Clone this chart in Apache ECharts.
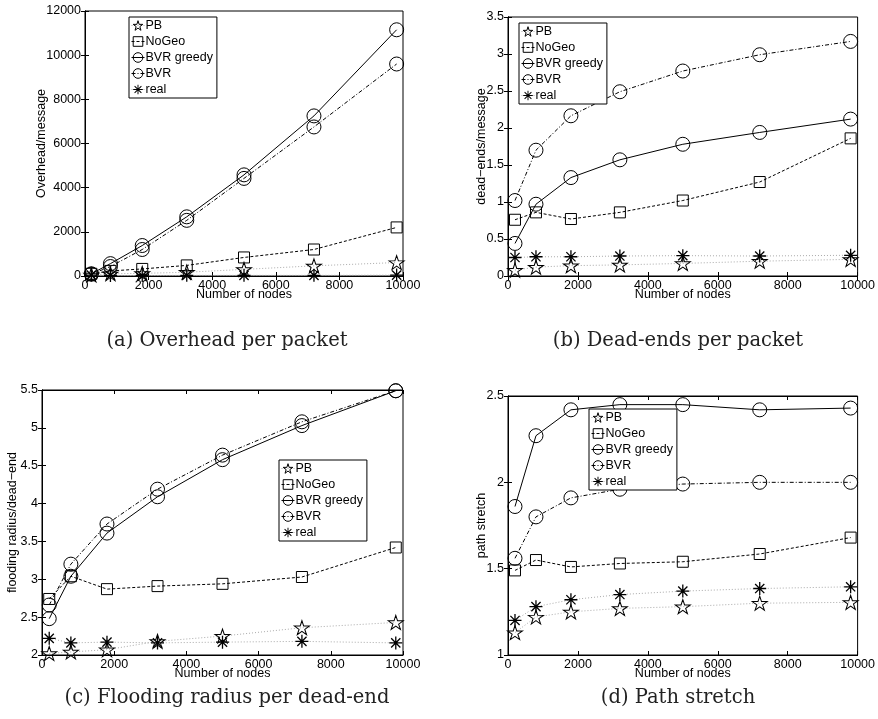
<!DOCTYPE html>
<html>
<head>
<meta charset="utf-8">
<script src="https://cdn.jsdelivr.net/npm/echarts@6/dist/echarts.min.js"></script>
<style>
  html, body { margin: 0; padding: 0; background: #fff; }
  #chart { width: 878px; height: 719px; }
</style>
</head>
<body>
<div id="chart"></div>
<script>
// number of nodes (x values), same for every panel
const nodes = [200, 800, 1800, 3200, 5000, 7200, 9800];
const names = ['PB', 'NoGeo', 'BVR greedy', 'BVR', 'real'];

// (a) overhead per packet
const overheadPB = [50, 100, 120, 170, 300, 460, 610];
const overheadNoGeo = [100, 230, 320, 480, 840, 1200, 2200];
const overheadGreedy = [100, 560, 1380, 2680, 4580, 7250, 11150];
const overheadBVR = [80, 430, 1200, 2520, 4420, 6750, 9600];
const overheadReal = [40, 20, 20, 30, 30, 30, 40];

// (b) dead-ends per packet
const deadPB = [0.08, 0.12, 0.14, 0.15, 0.17, 0.2, 0.225];
const deadNoGeo = [0.76, 0.86, 0.77, 0.86, 1.02, 1.27, 1.86];
const deadGreedy = [0.44, 0.97, 1.33, 1.57, 1.78, 1.94, 2.12];
const deadBVR = [1.02, 1.70, 2.165, 2.49, 2.77, 2.99, 3.17];
const deadReal = [0.25, 0.26, 0.26, 0.27, 0.275, 0.27, 0.28];

// (c) flooding radius per dead-end
const floodPB = [2.02, 2.04, 2.07, 2.18, 2.25, 2.36, 2.43];
const floodNoGeo = [2.74, 3.04, 2.87, 2.91, 2.94, 3.03, 3.42];
const floodGreedy = [2.48, 3.04, 3.61, 4.09, 4.58, 5.03, 5.49];
const floodBVR = [2.66, 3.20, 3.73, 4.19, 4.64, 5.08, 5.49];
const floodReal = [2.22, 2.16, 2.17, 2.16, 2.17, 2.18, 2.16];

// (d) path stretch
const stretchPB = [1.13, 1.22, 1.25, 1.27, 1.28, 1.30, 1.305];
const stretchNoGeo = [1.49, 1.55, 1.51, 1.53, 1.54, 1.585, 1.68];
const stretchGreedy = [1.86, 2.27, 2.42, 2.45, 2.45, 2.42, 2.43];
const stretchBVR = [1.56, 1.80, 1.91, 1.96, 1.99, 2.0, 2.0];
const stretchReal = [1.20, 1.28, 1.32, 1.35, 1.37, 1.385, 1.395];

const yNames = ['Overhead/message', 'dead\u2212ends/message', 'flooding radius/dead\u2212end', 'path stretch'];
const captions = ['(a) Overhead per packet', '(b) Dead-ends per packet', '(c) Flooding radius per dead-end', '(d) Path stretch'];

const starPath = 'path://M0,-10 L2.245,-3.09 L9.511,-3.09 L3.633,1.18 L5.878,8.09 L0,3.82 L-5.878,8.09 L-3.633,1.18 L-9.511,-3.09 L-2.245,-3.09 Z';
const asteriskPath = 'path://M-10,-1 L10,-1 L10,1 L-10,1 Z M-1,-10 L1,-10 L1,10 L-1,10 Z ' +
    'M-7.778,-6.364 L-6.364,-7.778 L7.778,6.364 L6.364,7.778 Z ' +
    'M-6.364,7.778 L-7.778,6.364 L6.364,-7.778 L7.778,-6.364 Z';

const font = 'Liberation Sans';

const panels = [
    { left: 85, top: 11, width: 318, height: 265, min: 0, max: 12000, step: 2000, gap: 37,
      legend: [129, 17], data: [overheadPB, overheadNoGeo, overheadGreedy, overheadBVR, overheadReal] },
    { left: 508, top: 17, width: 354, height: 259, min: 0, max: 3.5, step: 0.5, gap: 20,
      legend: [519, 23], data: [deadPB, deadNoGeo, deadGreedy, deadBVR, deadReal] },
    { left: 42, top: 390, width: 361, height: 265, min: 2, max: 5.5, step: 0.5, gap: 23,
      legend: [279, 460], data: [floodPB, floodNoGeo, floodGreedy, floodBVR, floodReal] },
    { left: 508, top: 396, width: 354, height: 259, min: 1, max: 2.5, step: 0.5, gap: 20,
      legend: [589, 409], data: [stretchPB, stretchNoGeo, stretchGreedy, stretchBVR, stretchReal] }
];

const hollow = { color: 'rgba(255,255,255,0)', borderColor: '#000', borderWidth: 1 };

function seriesStyle(k) {
    if (k == 0) return { symbol: starPath, symbolSize: [15, 14], itemStyle: hollow,
        lineStyle: { color: '#aaa', width: 1, type: [1, 2] } };
    if (k == 1) return { symbol: 'rect', symbolSize: 11, itemStyle: hollow,
        lineStyle: { color: '#000', width: 1, type: [3, 2] } };
    if (k == 2) return { symbol: 'circle', symbolSize: 14, itemStyle: hollow,
        lineStyle: { color: '#000', width: 1, type: 'solid' } };
    if (k == 3) return { symbol: 'circle', symbolSize: 14, itemStyle: hollow,
        lineStyle: { color: '#000', width: 1, type: [4, 2, 1, 2] } };
    return { symbol: asteriskPath, symbolSize: 13, itemStyle: { color: '#000', borderColor: '#000', borderWidth: 0 },
        lineStyle: { color: '#aaa', width: 1, type: [1, 2] } };
}

function plainNumber(v) {
    return String(v);
}

let grid = [], xAxis = [], yAxis = [], series = [], legend = [], graphic = [];

panels.forEach(function (p, i) {
    grid.push({ left: p.left, top: p.top, width: p.width, height: p.height,
        show: true, borderColor: '#000', borderWidth: 1, backgroundColor: '#fff' });

    let tick = { show: true, inside: true, length: 4, lineStyle: { color: '#000' } };
    xAxis.push({
        type: 'value', gridIndex: i, min: 0, max: 10000, interval: 2000,
        name: 'Number of nodes', nameLocation: 'middle', nameGap: 12, nameMoveOverlap: false,
        nameTextStyle: { fontFamily: font, fontSize: 12.5, color: '#000' },
        axisLine: { lineStyle: { color: '#000' } }, axisTick: tick,
        axisLabel: { fontFamily: font, fontSize: 12.5, color: '#000', margin: 3, formatter: plainNumber },
        splitLine: { show: false }
    });
    xAxis.push({
        type: 'value', gridIndex: i, position: 'top', min: 0, max: 10000, interval: 2000,
        axisLine: { lineStyle: { color: '#000' } }, axisTick: tick,
        axisLabel: { show: false }, splitLine: { show: false }
    });
    yAxis.push({
        type: 'value', gridIndex: i, min: p.min, max: p.max, interval: p.step,
        name: yNames[i], nameLocation: 'middle', nameGap: p.gap, nameMoveOverlap: false,
        nameTextStyle: { fontFamily: font, fontSize: 12.5, color: '#000' },
        axisLine: { show: true, lineStyle: { color: '#000' } }, axisTick: tick,
        axisLabel: { fontFamily: font, fontSize: 12.5, color: '#000', margin: 4, formatter: plainNumber },
        splitLine: { show: false }
    });
    yAxis.push({
        type: 'value', gridIndex: i, position: 'right', min: p.min, max: p.max, interval: p.step,
        axisLine: { show: true, lineStyle: { color: '#000' } }, axisTick: tick,
        axisLabel: { show: false }, splitLine: { show: false }
    });

    let legendData = [];
    p.data.forEach(function (vals, k) {
        let st = seriesStyle(k);
        series.push({
            name: names[k], type: 'line', xAxisIndex: i * 2, yAxisIndex: i * 2,
            data: nodes.map(function (n, j) { return [n, vals[j]]; }),
            symbol: st.symbol, symbolSize: st.symbolSize,
            itemStyle: st.itemStyle, lineStyle: st.lineStyle,
            z: 3 + k, emphasis: { disabled: true }
        });
        legendData.push({ name: names[k], itemStyle: st.itemStyle, lineStyle: st.lineStyle });
    });

    legend.push({
        data: legendData, orient: 'vertical', left: p.legend[0], top: p.legend[1],
        padding: [2, 4, 2, 2], itemGap: 3, itemWidth: 13, itemHeight: 12,
        borderColor: '#000', borderWidth: 1, backgroundColor: '#fff',
        textStyle: { fontFamily: font, fontSize: 12.5, color: '#000', padding: [0, 0, 0, -4] },
        selectedMode: false, z: 10
    });

    graphic.push({
        type: 'text',
        x: i % 2 == 0 ? 227 : 678,
        y: i < 2 ? 341 : 698,
        style: { text: captions[i], fontFamily: 'DejaVu Serif', fontSize: 19.5, fill: '#222',
            textAlign: 'center', textVerticalAlign: 'middle' }
    });
});

let chart = echarts.init(document.getElementById('chart'), null, { renderer: 'canvas' });
chart.setOption({
    animation: false,
    backgroundColor: '#fff',
    grid: grid,
    xAxis: xAxis,
    yAxis: yAxis,
    legend: legend,
    series: series,
    graphic: graphic
});
</script>
</body>
</html>
